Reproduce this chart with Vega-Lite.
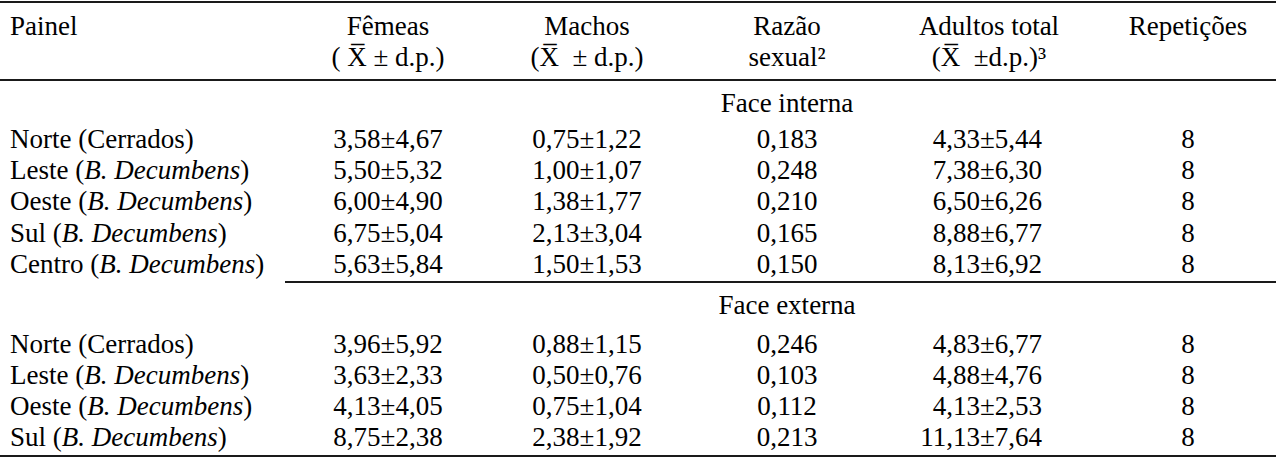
{
  "$schema": "https://vega.github.io/schema/vega-lite/v6.json",
  "width": 1276,
  "height": 458,
  "padding": 0,
  "autosize": {"type": "none"},
  "background": "white",
  "config": {"view": {"stroke": null}, "text": {"font": "Liberation Serif", "fontSize": 27, "color": "black", "baseline": "middle"}},
  "datasets": {
    "lines": [
      {"r": 0, "c": 0, "c2": 17},
      {"r": 3, "c": 0, "c2": 17},
      {"r": 10, "c": 10, "c2": 17},
      {"r": 16, "c": 0, "c2": 17}
    ],
    "cells": [
      {"r": 1, "c": 1, "t": "Painel"},
      {"r": 1, "c": 11, "t": "Fêmeas"},
      {"r": 1, "c": 12, "t": "Machos"},
      {"r": 1, "c": 13, "t": "Razão"},
      {"r": 1, "c": 14, "t": "Adultos total"},
      {"r": 1, "c": 16, "t": "Repetições"},
      {"r": 2, "c": 11, "t": "( X\u0305 ± d.p.)"},
      {"r": 2, "c": 12, "t": "(X\u0305 \u00a0± d.p.)"},
      {"r": 2, "c": 13, "t": "sexual²"},
      {"r": 2, "c": 14, "t": "(X\u0305 \u00a0±d.p.)³"},
      {"r": 4, "c": 13, "t": "Face interna"},
      {"r": 5, "c": 1, "t": "Norte (Cerrados)"},
      {"r": 5, "c": 11, "t": "3,58±4,67"},
      {"r": 5, "c": 12, "t": "0,75±1,22"},
      {"r": 5, "c": 13, "t": "0,183"},
      {"r": 5, "c": 15, "t": "4,33±5,44"},
      {"r": 5, "c": 16, "t": "8"},
      {"r": 6, "c": 1, "t": "Leste ("},
      {"r": 6, "c": 3, "t": "B. Decumbens"},
      {"r": 6, "c": 7, "t": ")"},
      {"r": 6, "c": 11, "t": "5,50±5,32"},
      {"r": 6, "c": 12, "t": "1,00±1,07"},
      {"r": 6, "c": 13, "t": "0,248"},
      {"r": 6, "c": 15, "t": "7,38±6,30"},
      {"r": 6, "c": 16, "t": "8"},
      {"r": 7, "c": 1, "t": "Oeste ("},
      {"r": 7, "c": 4, "t": "B. Decumbens"},
      {"r": 7, "c": 8, "t": ")"},
      {"r": 7, "c": 11, "t": "6,00±4,90"},
      {"r": 7, "c": 12, "t": "1,38±1,77"},
      {"r": 7, "c": 13, "t": "0,210"},
      {"r": 7, "c": 15, "t": "6,50±6,26"},
      {"r": 7, "c": 16, "t": "8"},
      {"r": 8, "c": 1, "t": "Sul ("},
      {"r": 8, "c": 2, "t": "B. Decumbens"},
      {"r": 8, "c": 6, "t": ")"},
      {"r": 8, "c": 11, "t": "6,75±5,04"},
      {"r": 8, "c": 12, "t": "2,13±3,04"},
      {"r": 8, "c": 13, "t": "0,165"},
      {"r": 8, "c": 15, "t": "8,88±6,77"},
      {"r": 8, "c": 16, "t": "8"},
      {"r": 9, "c": 1, "t": "Centro ("},
      {"r": 9, "c": 5, "t": "B. Decumbens"},
      {"r": 9, "c": 9, "t": ")"},
      {"r": 9, "c": 11, "t": "5,63±5,84"},
      {"r": 9, "c": 12, "t": "1,50±1,53"},
      {"r": 9, "c": 13, "t": "0,150"},
      {"r": 9, "c": 15, "t": "8,13±6,92"},
      {"r": 9, "c": 16, "t": "8"},
      {"r": 11, "c": 13, "t": "Face externa"},
      {"r": 12, "c": 1, "t": "Norte (Cerrados)"},
      {"r": 12, "c": 11, "t": "3,96±5,92"},
      {"r": 12, "c": 12, "t": "0,88±1,15"},
      {"r": 12, "c": 13, "t": "0,246"},
      {"r": 12, "c": 15, "t": "4,83±6,77"},
      {"r": 12, "c": 16, "t": "8"},
      {"r": 13, "c": 1, "t": "Leste ("},
      {"r": 13, "c": 3, "t": "B. Decumbens"},
      {"r": 13, "c": 7, "t": ")"},
      {"r": 13, "c": 11, "t": "3,63±2,33"},
      {"r": 13, "c": 12, "t": "0,50±0,76"},
      {"r": 13, "c": 13, "t": "0,103"},
      {"r": 13, "c": 15, "t": "4,88±4,76"},
      {"r": 13, "c": 16, "t": "8"},
      {"r": 14, "c": 1, "t": "Oeste ("},
      {"r": 14, "c": 4, "t": "B. Decumbens"},
      {"r": 14, "c": 8, "t": ")"},
      {"r": 14, "c": 11, "t": "4,13±4,05"},
      {"r": 14, "c": 12, "t": "0,75±1,04"},
      {"r": 14, "c": 13, "t": "0,112"},
      {"r": 14, "c": 15, "t": "4,13±2,53"},
      {"r": 14, "c": 16, "t": "8"},
      {"r": 15, "c": 1, "t": "Sul ("},
      {"r": 15, "c": 2, "t": "B. Decumbens"},
      {"r": 15, "c": 6, "t": ")"},
      {"r": 15, "c": 11, "t": "8,75±2,38"},
      {"r": 15, "c": 12, "t": "2,38±1,92"},
      {"r": 15, "c": 13, "t": "0,213"},
      {"r": 15, "c": 15, "t": "11,13±7,64"},
      {"r": 15, "c": 16, "t": "8"}
    ]
  },
  "encoding": {
    "x": {"field": "c", "type": "quantitative", "axis": null,
      "scale": {"type": "linear", "nice": false, "zero": false,
        "domain": [0, 1, 2, 3, 4, 5, 6, 7, 8, 9, 10, 11, 12, 13, 14, 15, 16, 17],
        "range": [0, 10, 61.8, 84.2, 87.2, 99.2, 217.7, 240.2, 243.2, 255.2, 285, 388, 587, 787, 989, 1042, 1188, 1276]}},
    "y": {"field": "r", "type": "quantitative", "axis": null,
      "scale": {"type": "linear", "nice": false, "zero": false,
        "domain": [0, 1, 2, 3, 4, 5, 6, 7, 8, 9, 10, 11, 12, 13, 14, 15, 16],
        "range": [2, 27, 58, 80, 104, 140, 171, 202, 234, 265, 282, 306, 345, 376, 407, 438, 456]}}
  },
  "layer": [
    {
      "data": {"name": "lines"},
      "mark": {"type": "rule", "stroke": "#1a1a1a", "strokeWidth": 2},
      "encoding": {"x2": {"field": "c2"}}
    },
    {
      "data": {"name": "cells"},
      "transform": [{"filter": "datum.c == 11 || datum.c == 12 || datum.c == 13 || datum.c == 14 || datum.c == 16"}],
      "mark": {"type": "text", "align": "center"},
      "encoding": {"text": {"field": "t"}}
    },
    {
      "data": {"name": "cells"},
      "transform": [{"filter": "datum.c == 1 || (datum.c >= 6 && datum.c <= 9)"}],
      "mark": {"type": "text", "align": "left"},
      "encoding": {"text": {"field": "t"}}
    },
    {
      "data": {"name": "cells"},
      "transform": [{"filter": "datum.c >= 2 && datum.c <= 5"}],
      "mark": {"type": "text", "align": "left", "fontStyle": "italic"},
      "encoding": {"text": {"field": "t"}}
    },
    {
      "data": {"name": "cells"},
      "transform": [{"filter": "datum.c == 15"}],
      "mark": {"type": "text", "align": "right"},
      "encoding": {"text": {"field": "t"}}
    }
  ]
}
